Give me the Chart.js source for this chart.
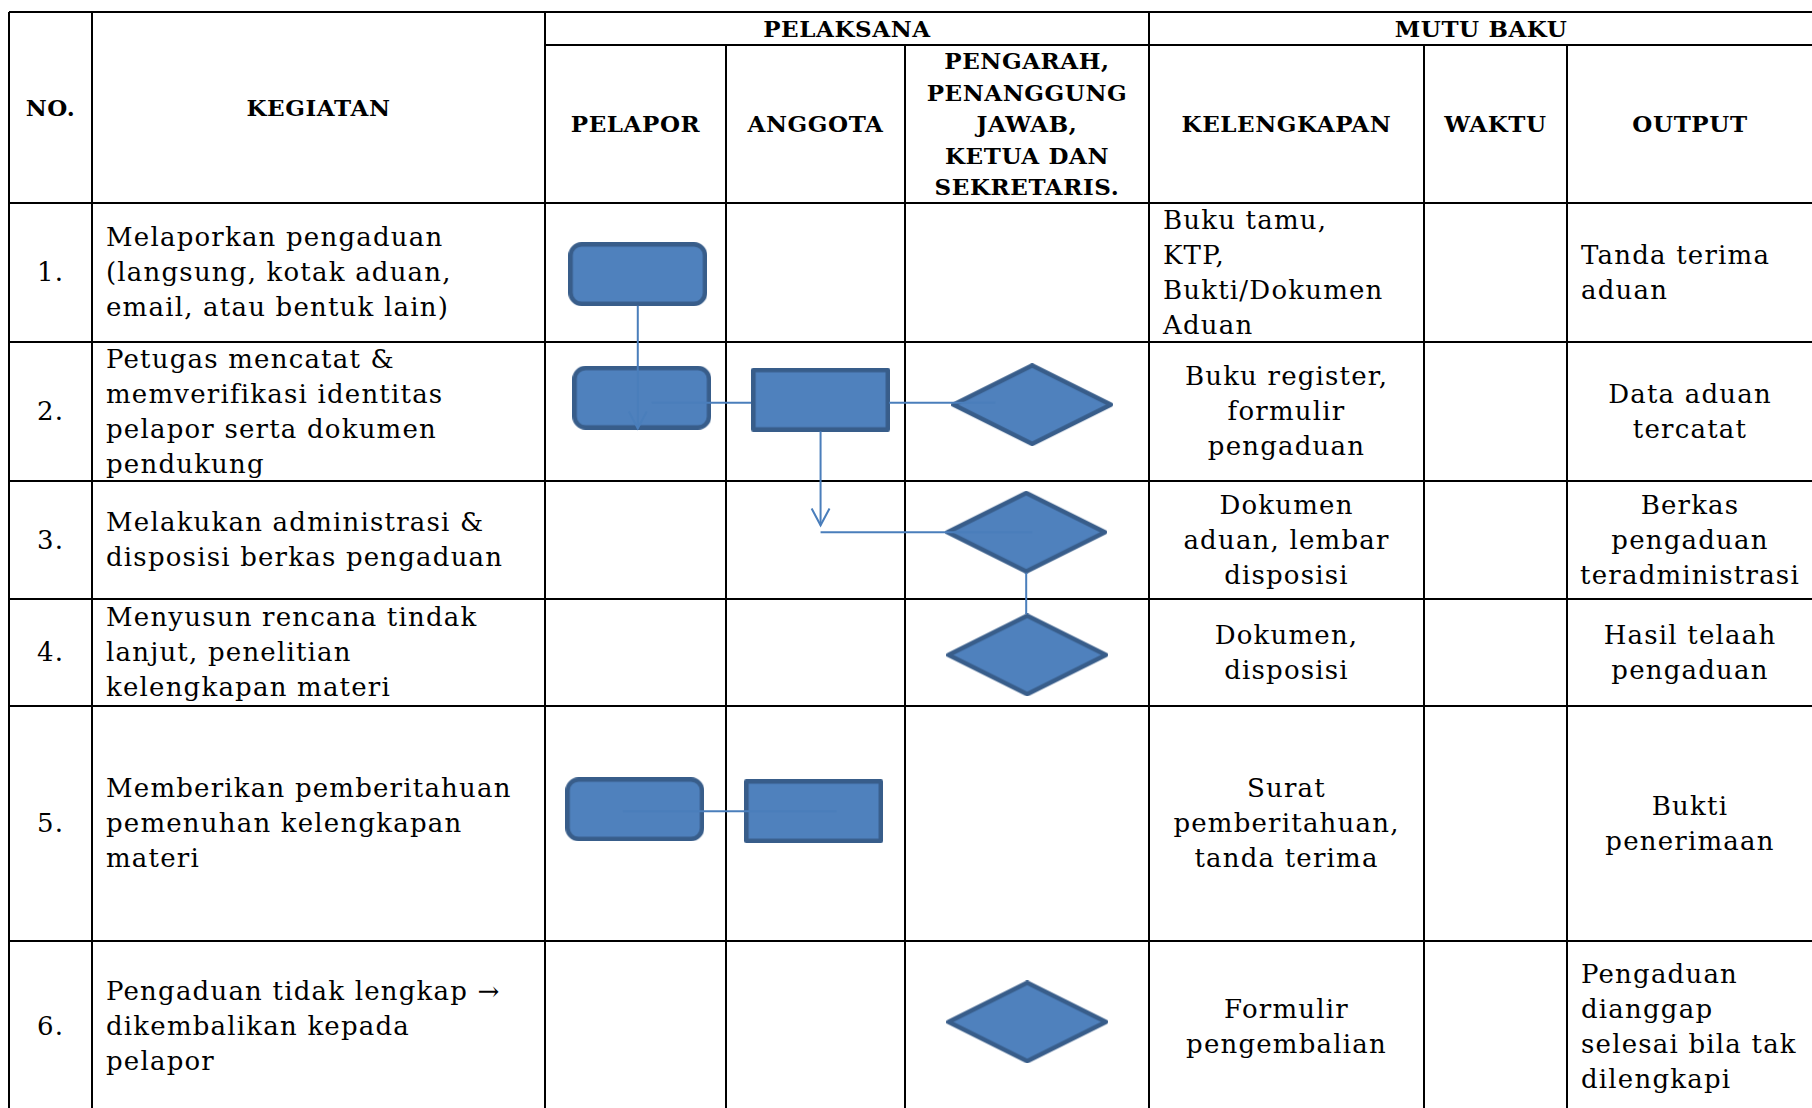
<!DOCTYPE html>
<html>
<head>
<meta charset="utf-8">
<script src="https://cdn.jsdelivr.net/npm/chart.js@4.4.0/dist/chart.umd.min.js"></script>
<style>
  body { margin: 0; background: #fff; width: 1812px; height: 1108px; overflow: hidden; position: relative; font-family: "DejaVu Serif", serif; color: #000; }
  .ln { position: absolute; background: #000; }
  .cell { position: absolute; display: flex; align-items: center; box-sizing: border-box; padding: 0 14px; white-space: nowrap; font-size: 26px; letter-spacing: 1.2px; line-height: 35px; }
  .hd { font-weight: bold; font-size: 23px; letter-spacing: 0.6px; line-height: 31.5px; justify-content: center; text-align: center; }
  .center { justify-content: center; text-align: center; }
  .left { justify-content: flex-start; text-align: left; }
  #wrap { position: absolute; left: 0; top: 0; width: 1812px; height: 1108px; }
</style>
</head>
<body>
<div id="grid"></div>
<div id="wrap"><canvas id="flow" width="1812" height="1108"></canvas></div>
<script>
// ============================
// isi tabel
// ============================

const nomor = ["1.", "2.", "3.", "4.", "5.", "6."];

const kegiatan = [
  ["Melaporkan pengaduan", "(langsung, kotak aduan,", "email, atau bentuk lain)"],
  ["Petugas mencatat &", "memverifikasi identitas", "pelapor serta dokumen", "pendukung"],
  ["Melakukan administrasi &", "disposisi berkas pengaduan"],
  ["Menyusun rencana tindak", "lanjut, penelitian", "kelengkapan materi"],
  ["Memberikan pemberitahuan", "pemenuhan kelengkapan", "materi"],
  ["Pengaduan tidak lengkap \u2192", "dikembalikan kepada", "pelapor"]
];

const kelengkapan = [
  ["Buku tamu,", "KTP,", "Bukti/Dokumen", "Aduan"],
  ["Buku register,", "formulir", "pengaduan"],
  ["Dokumen", "aduan, lembar", "disposisi"],
  ["Dokumen,", "disposisi"],
  ["Surat", "pemberitahuan,", "tanda terima"],
  ["Formulir", "pengembalian"]
];
const kelengkapanAlign = ["left", "center", "center", "center", "center", "center"];

const output = [
  ["Tanda terima", "aduan"],
  ["Data aduan", "tercatat"],
  ["Berkas", "pengaduan", "teradministrasi"],
  ["Hasil telaah", "pengaduan"],
  ["Bukti", "penerimaan"],
  ["Pengaduan", "dianggap", "selesai bila tak", "dilengkapi"]
];
const outputAlign = ["left", "center", "center", "center", "center", "left"];

const pelaksana = ["PELAPOR", "ANGGOTA", ["PENGARAH,", "PENANGGUNG", "JAWAB,", "KETUA DAN", "SEKRETARIS."]];
const mutuBaku = ["KELENGKAPAN", "WAKTU", "OUTPUT"];

// ============================
// node flowchart (satuan dokumen)
// ============================

const nodeShape = ["terminal", "terminal", "process", "decision", "decision", "decision", "terminal", "process", "decision"];
const nodeX = [636, 640, 820, 1033, 1027, 1028, 633, 813, 1028];
const nodeY = [271, 396, 398, 403, 532, 656, 812, 814, 1027];

const linkPaths = [
  [[636, 303], [636, 427]],
  [[650, 401], [750, 401]],
  [[889, 401], [996, 401]],
  [[820, 430], [820, 525]],
  [[820, 532], [1033, 532]],
  [[1027, 573], [1027, 615]],
  [[621, 814], [836, 814]]
];
const linkArrow = [true, false, false, true, false, false, false];

// ============================
// layout tabel
// ============================

const colEdges = [9, 92, 545, 726, 905, 1149, 1424, 1567, 1813];
const rowEdges = [12, 45, 203, 342, 481, 599, 706, 941, 1112];

const grid = document.getElementById("grid");

function addLine(x, y, w, h) {
  const d = document.createElement("div");
  d.className = "ln";
  d.style.left = x + "px"; d.style.top = y + "px";
  d.style.width = w + "px"; d.style.height = h + "px";
  grid.appendChild(d);
}

function addCell(x0, x1, y0, y1, lines, cls) {
  const d = document.createElement("div");
  d.className = "cell " + cls;
  d.style.left = x0 + "px"; d.style.top = y0 + "px";
  d.style.width = (x1 - x0) + "px"; d.style.height = (y1 - y0) + "px";
  const s = document.createElement("span");
  s.innerHTML = lines.join("<br>");
  d.appendChild(s);
  grid.appendChild(d);
}

const top0 = rowEdges[0], sub = rowEdges[1], head = rowEdges[2], bottom = rowEdges[rowEdges.length - 1];
const right = colEdges[colEdges.length - 1];

// garis horizontal
addLine(colEdges[0], top0 - 1, right - colEdges[0], 2);
addLine(colEdges[2], sub - 1, right - colEdges[2], 2);
for (let i = 2; i < rowEdges.length; i++) {
  addLine(colEdges[0], rowEdges[i] - 1, right - colEdges[0], 2);
}
// garis vertikal
colEdges.forEach((x, i) => {
  const full = [0, 1, 2, 5, 8].includes(i);
  const y0 = full ? top0 : sub;
  addLine(x - 1, y0, 2, bottom - y0);
});

// header
addCell(colEdges[0], colEdges[1], top0, head, ["NO."], "hd");
addCell(colEdges[1], colEdges[2], top0, head, ["KEGIATAN"], "hd");
addCell(colEdges[2], colEdges[5], top0, sub, ["PELAKSANA"], "hd");
addCell(colEdges[5], right, top0, sub, ["MUTU BAKU"], "hd");
pelaksana.forEach((t, i) => addCell(colEdges[2 + i], colEdges[3 + i], sub, head, Array.isArray(t) ? t : [t], "hd"));
mutuBaku.forEach((t, i) => addCell(colEdges[5 + i], colEdges[6 + i], sub, head, [t], "hd"));

// baris isi
nomor.forEach((n, i) => {
  const y0 = rowEdges[i + 2], y1 = rowEdges[i + 3];
  addCell(colEdges[0], colEdges[1], y0, y1, [n], "center");
  addCell(colEdges[1], colEdges[2], y0, y1, kegiatan[i], "left");
  addCell(colEdges[5], colEdges[6], y0, y1, kelengkapan[i], kelengkapanAlign[i]);
  addCell(colEdges[7], right, y0, y1, output[i], outputAlign[i]);
});

// ============================
// bentuk flowchart sebagai pointStyle
// ============================

function shapeCanvas(kind) {
  const w = kind === "decision" ? 162 : 139;
  const h = kind === "decision" ? 83 : 64;
  const c = document.createElement("canvas");
  c.width = w; c.height = h;
  const g = c.getContext("2d");
  const lw = 4.5, m = lw / 2;
  g.beginPath();
  if (kind === "terminal") {
    g.roundRect(m, m, w - lw, h - lw, 11);
  } else if (kind === "process") {
    g.rect(m, m, w - lw, h - lw);
  } else {
    g.moveTo(w / 2, m); g.lineTo(w - m, h / 2); g.lineTo(w / 2, h - m); g.lineTo(m, h / 2); g.closePath();
  }
  g.fillStyle = "#4F81BD";
  g.fill();
  g.lineWidth = lw;
  g.lineJoin = "round";
  g.strokeStyle = "#385D8A";
  g.stroke();
  return c;
}

const shapeStyles = {
  terminal: shapeCanvas("terminal"),
  process: shapeCanvas("process"),
  decision: shapeCanvas("decision")
};

function arrowHead(path) {
  const [a, b] = path.slice(-2);
  const dx = b[0] - a[0], dy = b[1] - a[1];
  const len = Math.hypot(dx, dy);
  const ux = dx / len, uy = dy / len;
  const back = 17, half = 9;
  return [
    { x: b[0] - ux * back - uy * half, y: b[1] - uy * back + ux * half },
    { x: b[0], y: b[1] },
    { x: b[0] - ux * back + uy * half, y: b[1] - uy * back - ux * half }
  ];
}

const lineStyle = { showLine: true, borderColor: "#4A7EBB", borderWidth: 2, pointRadius: 0, fill: false, order: 0 };

const datasets = [];
linkPaths.forEach((p, i) => {
  datasets.push(Object.assign({ data: p.map(q => ({ x: q[0], y: q[1] })) }, lineStyle));
  if (linkArrow[i]) datasets.push(Object.assign({ data: arrowHead(p) }, lineStyle));
});
datasets.push({
  data: nodeX.map((x, i) => ({ x: x, y: nodeY[i] })),
  pointStyle: ctx => shapeStyles[nodeShape[ctx.dataIndex]],
  pointRadius: 5,
  showLine: false,
  order: 1
});

new Chart(document.getElementById("flow"), {
  type: "scatter",
  data: { datasets: datasets },
  options: {
    responsive: false,
    animation: false,
    events: [],
    layout: { padding: 0 },
    plugins: { legend: { display: false }, tooltip: { enabled: false } },
    scales: {
      x: { type: "linear", min: 0, max: 1812, display: false },
      y: { type: "linear", min: 0, max: 1108, reverse: true, display: false }
    }
  }
});
</script>
</body>
</html>
